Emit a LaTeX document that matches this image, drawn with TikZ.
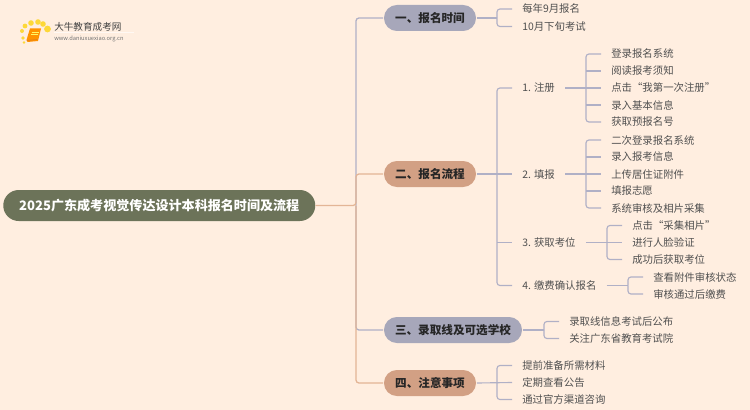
\documentclass[tikz,border=0pt]{standalone}
\usepackage{fontspec}
\setmainfont{Noto Sans CJK SC}
\definecolor{bgc}{HTML}{FFEEE0}
\definecolor{linkb}{HTML}{B0B0C6}
\definecolor{linko}{HTML}{E3B596}
\definecolor{pillb}{HTML}{A7A7BA}
\definecolor{pillo}{HTML}{D2A084}
\definecolor{rootc}{HTML}{6C7359}
\definecolor{leaft}{HTML}{505050}
\tikzset{
  leaf/.style={anchor=west,inner xsep=7.5pt,inner ysep=0pt,text height=6.4pt,text depth=0.4pt,text=leaft,font=\fontsize{7.8}{9}\selectfont},
  pill/.style={anchor=west,minimum height=19.5pt,inner sep=0pt,text height=7pt,text depth=0.4pt,rounded corners=9.7pt,text=black!85,font=\fontsize{8.7}{10}\selectfont\bfseries,outer sep=0.75pt},
  rootnode/.style={anchor=west,minimum width=234pt,minimum height=23.25pt,inner sep=0pt,text height=8pt,text depth=0.6pt,rounded corners=11.6pt,fill=rootc,text=white,font=\fontsize{9.8}{11}\selectfont\bfseries},
  linkline/.style={draw=linkb,line width=0.85pt,rounded corners=2.2pt},
  linkorange/.style={draw=linko,line width=0.95pt,rounded corners=2.2pt},
  lineblue/.style={draw=linkb,line width=0.95pt,rounded corners=2.2pt}
}
% parent stem: from parent p to the bus 15 px before child c
\newcommand{\stem}[2]{%
  \coordinate (bus) at ([xshift=-11.25pt]#2.west);
  \draw[linkline] (#1.east) -- (bus |- #1.east);}
% outer child: corner from the bus at p's height to child c
\newcommand{\brk}[2]{%
  \coordinate (bus) at ([xshift=-11.25pt]#2.west);
  \draw[linkline] (bus |- #1.east) |- (#2.west);}
% inner child: short tee from the bus
\newcommand{\tee}[1]{%
  \draw[linkline] ([xshift=-11.25pt]#1.west) -- (#1.west);}
% middle child, level with the parent: one straight line
\newcommand{\brkm}[2]{\draw[linkline] (#1.east) -- (#2.west);}
\begin{document}
\begin{tikzpicture}[x=0.75pt,y=-0.75pt]
\useasboundingbox (0,0) rectangle (750,410);
\fill[bgc] (0,0) rectangle (750,410);
% logo
\fill[white!60!bgc] (54,32.5) rectangle (134,33.5);
\foreach \px/\py/\ps in {25/26/2.4,22/31/2,31/23/2.8,38/22/2.8,43/24/2.8,47.5/29/3.4,23/38/1.8,24/42.5/1.4}
  \fill[yellow!70!orange!75!bgc] (\px,\py) circle[radius=\ps*0.75pt];
\fill[orange!85!yellow] (30,28.5) -- (41,28.5) -- (38,41) -- (27.5,42) -- (26.5,40) -- cycle;
\draw[yellow!60!white,line width=0.5pt] (31.5,32) -- (38.5,32) (31,34.5) -- (38,34.5);
\draw[orange!60!brown,line width=0.6pt] (26.8,40.5) -- (37.5,39.5);
\node[inner sep=0pt,anchor=west,text=black!75,font=\fontsize{7.2}{9}\selectfont] (logot) at (54,27) {大牛教育成考网};
\node[inner sep=0pt,anchor=west,text=black!55,font=\fontsize{4.3}{5}\selectfont] (logou) at (54,38.7) {www.daniuxuexiao.org.cn};
% root
\node[rootnode] (root) at (3,205.5) {2025广东成考视觉传达设计本科报名时间及流程};
% level 1
\node[pill,fill=pillb,minimum width=69pt] (p1) at (383,18) {一、报名时间};
\node[pill,fill=pillo,minimum width=69pt] (p2) at (383,174) {二、报名流程};
\node[pill,fill=pillb,minimum width=103.5pt] (p3) at (383,330) {三、录取线及可选学校};
\node[pill,fill=pillo,minimum width=69pt] (p4) at (383,383) {四、注意事项};
% spine
\coordinate (spine) at (356,205.5);
\draw[lineblue] (spine) |- (p1.west);
\draw[lineblue] (spine) |- (p3.west);
\draw[linkorange] (root.east) -- (spine) |- (p2.west);
\draw[linkorange] (spine) |- (p4.west);
% group 1
\node[leaf] (a1) at (512,9) {每年9月报名};
\node[leaf] (a2) at (512,26.5) {10月下旬考试};
\stem{p1}{a1}\brk{p1}{a1}\brk{p1}{a2}
% group 2
\node[leaf] (b1) at (512,88) {1. 注册};
\node[leaf] (b2) at (512,174) {2. 填报};
\node[leaf] (b3) at (512,242.5) {3. 获取考位};
\node[leaf] (b4) at (512,285.5) {4. 缴费确认报名};
\brkm{p2}{b2}\brk{p2}{b1}\brk{p2}{b4}\tee{b3}
% 1. register
\node[leaf] (c1) at (601,54) {登录报名系统};
\node[leaf] (c2) at (601,71) {阅读报考须知};
\node[leaf] (c3) at (601,88) {点击“我第一次注册”};
\node[leaf] (c4) at (601,105) {录入基本信息};
\node[leaf] (c5) at (601,122) {获取预报名号};
\brkm{b1}{c3}\brk{b1}{c1}\brk{b1}{c5}\tee{c2}\tee{c4}
% 2. fill
\node[leaf] (d1) at (601,140) {二次登录报名系统};
\node[leaf] (d2) at (601,157) {录入报考信息};
\node[leaf] (d3) at (601,174) {上传居住证附件};
\node[leaf] (d4) at (601,191) {填报志愿};
\node[leaf] (d5) at (601,208) {系统审核及相片采集};
\brkm{b2}{d3}\brk{b2}{d1}\brk{b2}{d5}\tee{d2}\tee{d4}
% 3. seat
\node[leaf] (e1) at (622,225.5) {点击“采集相片”};
\node[leaf] (e2) at (622,242.5) {进行人脸验证};
\node[leaf] (e3) at (622,259.5) {成功后获取考位};
\brkm{b3}{e2}\brk{b3}{e1}\brk{b3}{e3}
% 4. payment
\node[leaf] (f1) at (643,277) {查看附件审核状态};
\node[leaf] (f2) at (643,294) {审核通过后缴费};
\stem{b4}{f1}\brk{b4}{f1}\brk{b4}{f2}
% group 3
\node[leaf] (g1) at (559,321.5) {录取线信息考试后公布};
\node[leaf] (g2) at (559,338.5) {关注广东省教育考试院};
\stem{p3}{g1}\brk{p3}{g1}\brk{p3}{g2}
% group 4
\node[leaf] (h1) at (512,365.5) {提前准备所需材料};
\node[leaf] (h2) at (512,382.5) {定期查看公告};
\node[leaf] (h3) at (512,399.5) {通过官方渠道咨询};
\brkm{p4}{h2}\brk{p4}{h1}\brk{p4}{h3}
\end{tikzpicture}
\end{document}
